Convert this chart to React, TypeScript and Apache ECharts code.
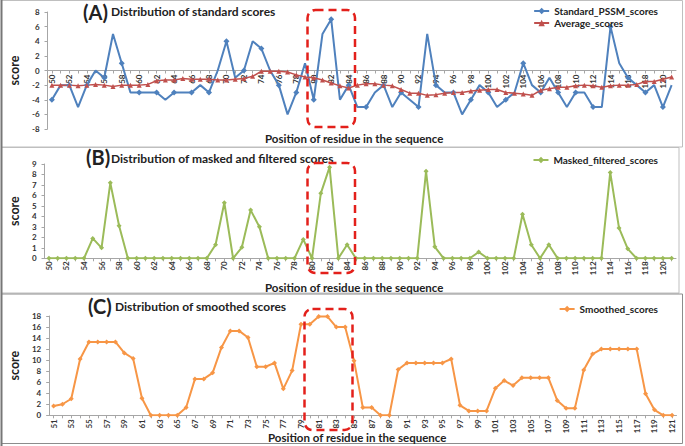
import React, { useEffect, useRef } from "react";
import * as echarts from "echarts";

const positionsAB = ["50","51","52","53","54","55","56","57","58","59","60","61","62","63","64","65","66","67","68","69","70","71","72","73","74","75","76","77","78","79","80","81","82","83","84","85","86","87","88","89","90","91","92","93","94","95","96","97","98","99","100","101","102","103","104","105","106","107","108","109","110","111","112","113","114","115","116","117","118","119","120","121"];
const positionsC = ["51","52","53","54","55","56","57","58","59","60","61","62","63","64","65","66","67","68","69","70","71","72","73","74","75","76","77","78","79","80","81","82","83","84","85","86","87","88","89","90","91","92","93","94","95","96","97","98","99","100","101","102","103","104","105","106","107","108","109","110","111","112","113","114","115","116","117","118","119","120","121"];

const standardScores = [-4,-2,-2,-5,-2,0,-1,5,1,-3, -3,-3,-3,-4,-3,-3,-3,-2,-3,0, 4,-1,0,4,3,0,-2,-6,-3,1, -4,5,7,-4,-2,-5,-5,-3,-2,-5, -3,-4,-5,5,-2,-3,-3,-6,-4,-2, -3,-5,-4,-3,1,-2,-3,-1,-3,-5, -3,-3,-5,-5,6,1,-1,-2,-3,-2, -5,-2];
const averageScores = [-2,-2,-2,-2.1,-2,-1.9,-2,-2.2,-2,-2, -2,-1.9,-1.4,-1.3,-1.3,-1.1,-1.2,-1.2,-1.2,-1.3, -1.3,-1.2,-1.1,-0.8,-0.1,-0.1,-0.1,-0.2,-0.6,-0.9, -1.0,-1.3,-1.7,-2.1,-2.4,-2,-1.8,-1.8,-2,-2.1, -2.6,-3.1,-3.1,-3.4,-3.3,-3.1,-3,-3,-2.8,-2.7, -2.6,-2.6,-3,-3.1,-3.2,-3.4,-2.7,-2.5,-2.3,-2.3, -2.1,-2,-2.1,-2.3,-2.1,-2,-2,-1.9,-1.5,-1.5, -1.2,-0.9];
const maskedScores = [0,0,0,0,0,1.9,1.0,7.2,3.1,0, 0,0,0,0,0,0,0,0,0,1.3, 5.3,0,1.05,4.6,3.0,0,0,0,0,1.8, 0,6.2,8.7,0,1.3,0,0,0,0,0, 0,0,0,8.3,1.1,0,0,0,0,0.6, 0,0,0,0,4.2,1.3,0,1.3,0,0, 0,0,0,0,8.2,2.9,0.9,0,0,0, 0,0];
const smoothedScores = [1.7,2.0,3.0,10.2,13.3,13.3,13.3,13.3,11.3,10.3, 3.1,0,0,0,0,1.4,6.6,6.6,7.7,12.3, 15.3,15.3,14.1,8.8,8.8,9.5,4.8,8.1,16.5,16.5, 17.9,17.9,16.0,16.0,9.9,1.4,1.4,0,0,8.3, 9.5,9.5,9.5,9.5,9.5,10.2,1.8,0.8,0.8,0.8, 4.9,6.3,5.4,6.8,6.8,6.8,6.8,2.7,1.3,1.3, 8.2,11.1,12.0,12.0,12.0,12.0,12.0,3.9,1.0,0, 0];

const FONT = "Lato";
const GRAY = "#A6A6A6";
const LBL = "#333333";

const GRID_A = { left: 32, top: 12, width: 644, height: 117 };
const Y_A = { min: -8, max: 8 };

function xAxisCfg(gridIndex: number, data: string[], margin: number, offset: number) {
  return {
    type: "category",
    gridIndex,
    data,
    boundaryGap: true,
    offset,
    axisLine: { onZero: false, lineStyle: { color: GRAY, width: 1 } },
    axisTick: { show: true, interval: 0, length: 3, alignWithLabel: true, lineStyle: { color: GRAY } },
    axisLabel: { interval: 1, rotate: 90, fontSize: 8, fontWeight: "bold", color: LBL, fontFamily: FONT, margin },
    splitLine: { show: false },
  };
}

function yAxisCfg(gridIndex: number, min: number, max: number, interval: number) {
  return {
    type: "value",
    gridIndex,
    min,
    max,
    interval,
    name: "score",
    nameLocation: "middle",
    nameGap: 16,
    nameTextStyle: { fontSize: 12.5, fontWeight: "bold", color: "#222", fontFamily: FONT },
    axisLine: { show: true, lineStyle: { color: GRAY } },
    axisTick: { show: true, length: 3, lineStyle: { color: GRAY } },
    axisLabel: { fontSize: 8, fontWeight: "bold", color: LBL, fontFamily: FONT, margin: 8 },
    splitLine: { show: false },
  };
}

function panelText(x: number, y: number, text: string, size: number) {
  return {
    type: "text",
    x,
    y,
    style: { text, fontSize: size, fontWeight: "bold", fill: "#222", fontFamily: FONT, textVerticalAlign: "middle" },
  };
}

function dashedBox(x: number, y: number, w: number, h: number) {
  return {
    type: "rect",
    shape: { x, y, width: w, height: h, r: 8 },
    style: { fill: "none", stroke: "#E3201B", lineWidth: 2.5, lineDash: [8, 5] },
    z: 100,
  };
}

export default function App() {
  const ref = useRef<HTMLDivElement>(null);
  useEffect(() => {
    if (!ref.current) return;
    const chart = echarts.init(ref.current, null, { renderer: "svg" });
    const legendText = { fontSize: 10, fontWeight: "bold", color: "#222", fontFamily: FONT };
    // x axis of panel A sits on y = 0: shift it up from the grid bottom by the zero's distance
    const zeroOffsetA = -GRID_A.height * (0 - Y_A.min) / (Y_A.max - Y_A.min);
    chart.setOption({
      animation: false,
      backgroundColor: "#ffffff",
      grid: [
        GRID_A,
        { left: 32, top: 164, width: 644, height: 94.3 },
        { left: 34.5, top: 316, width: 642, height: 99.3 },
      ],
      xAxis: [xAxisCfg(0, positionsAB, 4, zeroOffsetA), xAxisCfg(1, positionsAB, 3, 0), xAxisCfg(2, positionsC, 4, 0)],
      yAxis: [yAxisCfg(0, Y_A.min, Y_A.max, 2), yAxisCfg(1, 0, 9, 1), yAxisCfg(2, 0, 18, 2)],
      legend: [
        {
          right: 22, top: 1, orient: "vertical", align: "left", itemWidth: 15, itemHeight: 8, itemGap: 2,
          data: ["Standard_PSSM_scores", "Average_scores"], textStyle: legendText,
        },
        {
          right: 22, top: 150, align: "left", itemWidth: 15, itemHeight: 8,
          data: ["Masked_filtered_scores"], textStyle: legendText,
        },
        {
          right: 22, top: 299, align: "left", itemWidth: 15, itemHeight: 8,
          data: ["Smoothed_scores"], textStyle: legendText,
        },
      ],
      series: [
        {
          name: "Standard_PSSM_scores", type: "line", xAxisIndex: 0, yAxisIndex: 0, data: standardScores,
          symbol: "diamond", symbolSize: 6, itemStyle: { color: "#4F81BD" }, lineStyle: { color: "#4F81BD", width: 2 },
        },
        {
          name: "Average_scores", type: "line", xAxisIndex: 0, yAxisIndex: 0, data: averageScores,
          symbol: "triangle", symbolSize: 5, itemStyle: { color: "#C0504D" }, lineStyle: { color: "#C0504D", width: 1.5 },
        },
        {
          name: "Masked_filtered_scores", type: "line", xAxisIndex: 1, yAxisIndex: 1, data: maskedScores,
          symbol: "diamond", symbolSize: 5, itemStyle: { color: "#9BBB59" }, lineStyle: { color: "#9BBB59", width: 2 },
        },
        {
          name: "Smoothed_scores", type: "line", xAxisIndex: 2, yAxisIndex: 2, data: smoothedScores,
          symbol: "diamond", symbolSize: 5, itemStyle: { color: "#F79646" }, lineStyle: { color: "#F79646", width: 2 },
        },
      ],
      graphic: [
        { type: "rect", shape: { x: 1.5, y: 0.5, width: 681, height: 146.5 }, style: { fill: "none", stroke: "#BFBFBF", lineWidth: 1 }, z: -1 },
        { type: "rect", shape: { x: 1.5, y: 147.5, width: 677.5, height: 145.5 }, style: { fill: "none", stroke: "#BFBFBF", lineWidth: 1 }, z: -1 },
        { type: "rect", shape: { x: 1.5, y: 294, width: 681, height: 149.5 }, style: { fill: "none", stroke: "#8C8C8C", lineWidth: 1 }, z: -1 },
        { type: "line", shape: { x1: 1.5, y1: 0, x2: 1.5, y2: 446 }, style: { stroke: "#777", lineWidth: 2 } },
        panelText(83, 12, "(A)", 20),
        panelText(111, 11, "Distribution of standard scores", 12),
        panelText(86, 157, "(B)", 20),
        panelText(111, 158, "Distribution of masked and filtered scores", 12),
        panelText(88, 306, "(C)", 20),
        panelText(115, 306, "Distribution of smoothed scores", 12),
        panelText(265, 138, "Position of residue in the sequence", 11.5),
        panelText(265, 287, "Position of residue in the sequence", 11.5),
        panelText(268, 437, "Position of residue in the sequence", 11.5),
        dashedBox(307.5, 10, 47.5, 117),
        dashedBox(307.5, 163, 47.5, 110),
        dashedBox(304.5, 309, 48, 121),
      ],
    });
    return () => chart.dispose();
  }, []);
  return <div ref={ref} style={{ position: "absolute", left: 0, top: 0, width: 685, height: 446 }} />;
}
